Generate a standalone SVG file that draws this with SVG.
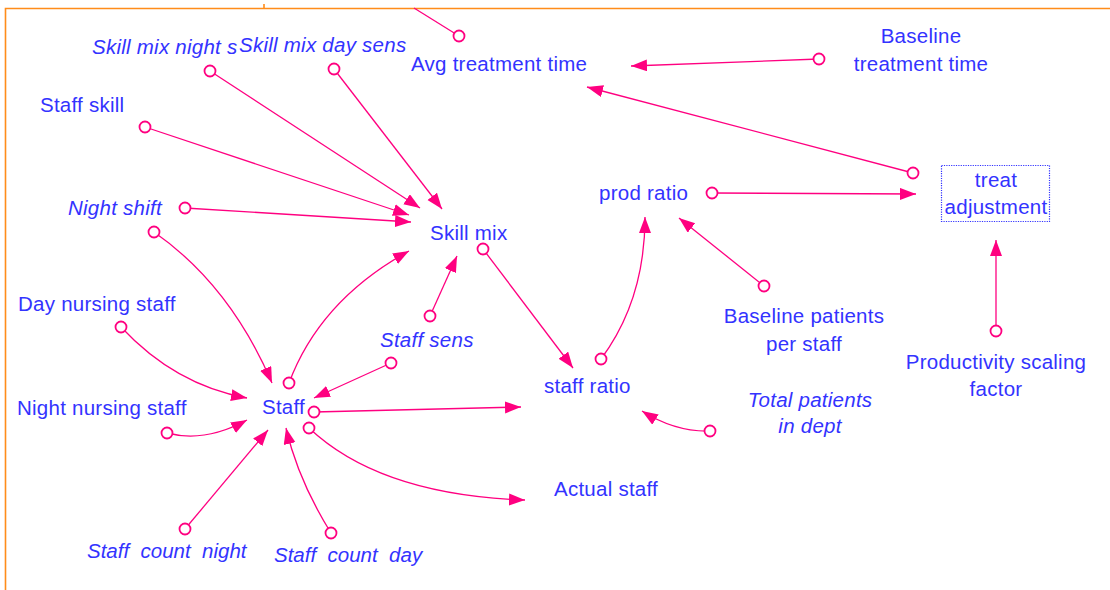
<svg xmlns="http://www.w3.org/2000/svg" width="1110" height="590" viewBox="0 0 1110 590">
<style>
.t{font-family:"Liberation Sans",Arial,sans-serif;font-size:20.5px;letter-spacing:0.25px;fill:#3333ff}
.i{font-style:italic}
.m{text-anchor:middle}
.n{letter-spacing:0}
.c{fill:none;stroke:#ff0080;stroke-width:1.3}
.a{marker-end:url(#ah)}
.o{fill:#fff;stroke:#ff0080;stroke-width:1.8}
.b{fill:none;stroke:#ff8c1a;stroke-width:1.6}
</style>
<defs>
<marker id="ah" markerUnits="userSpaceOnUse" markerWidth="17" markerHeight="13" refX="16" refY="6" orient="auto">
<path d="M0,0 L16,6 L0,12 z" fill="#ff0080"/>
</marker>
</defs>
<rect width="1110" height="590" fill="#fff"/>
<g id="frame">
<path class="b" d="M5.5,590 V8.5 H1110"/>
<path class="b" d="M264,4 V8"/>
</g>
<g id="connectors">
<path class="c" d="M459,36 L414,8"/>
<path class="c a" d="M819,59 L631,66"/>
<path class="c a" d="M913,173 L587,87"/>
<path class="c a" d="M712,193 L916,194"/>
<path class="c a" d="M996,331 L996,240"/>
<path class="c a" d="M764,286 L679,218"/>
<path class="c a" d="M601,359 Q645,300 645,217"/>
<path class="c a" d="M483,249 L573,368"/>
<path class="c a" d="M710,431 Q675,432 642,411"/>
<path class="c a" d="M314,412 L521,407"/>
<path class="c a" d="M309,428 Q380,495 525,500"/>
<path class="c a" d="M289,383 Q320,300 409,251"/>
<path class="c a" d="M430,316 L457,256"/>
<path class="c a" d="M391,363 L314,398"/>
<path class="c a" d="M185,208 L411,222"/>
<path class="c a" d="M154,232 Q230,285 272,383"/>
<path class="c a" d="M145,127 L409,215"/>
<path class="c a" d="M210,71 L420,208"/>
<path class="c a" d="M334,69 L442,209"/>
<path class="c a" d="M121,327 Q175,385 247,398"/>
<path class="c a" d="M167,433 Q205,443 247,420"/>
<path class="c a" d="M185,529 L268,430"/>
<path class="c a" d="M331,533 Q298,480 286,428"/>
<circle class="o" cx="459" cy="36" r="5.5"/>
<circle class="o" cx="819" cy="59" r="5.5"/>
<circle class="o" cx="913" cy="173" r="5.5"/>
<circle class="o" cx="712" cy="193" r="5.5"/>
<circle class="o" cx="996" cy="331" r="5.5"/>
<circle class="o" cx="764" cy="286" r="5.5"/>
<circle class="o" cx="601" cy="359" r="5.5"/>
<circle class="o" cx="483" cy="249" r="5.5"/>
<circle class="o" cx="710" cy="431" r="5.5"/>
<circle class="o" cx="314" cy="412" r="5.5"/>
<circle class="o" cx="309" cy="428" r="5.5"/>
<circle class="o" cx="289" cy="383" r="5.5"/>
<circle class="o" cx="430" cy="316" r="5.5"/>
<circle class="o" cx="391" cy="363" r="5.5"/>
<circle class="o" cx="185" cy="208" r="5.5"/>
<circle class="o" cx="154" cy="232" r="5.5"/>
<circle class="o" cx="145" cy="127" r="5.5"/>
<circle class="o" cx="210" cy="71" r="5.5"/>
<circle class="o" cx="334" cy="69" r="5.5"/>
<circle class="o" cx="121" cy="327" r="5.5"/>
<circle class="o" cx="167" cy="433" r="5.5"/>
<circle class="o" cx="185" cy="529" r="5.5"/>
<circle class="o" cx="331" cy="533" r="5.5"/>
</g>
<g id="skill-mix-night-s"><text class="t i" x="92" y="54">Skill mix night s</text></g>
<g id="skill-mix-day-sens"><text class="t i" x="239" y="52">Skill mix day sens</text></g>
<g id="avg-treatment-time"><text class="t" x="411" y="71">Avg treatment time</text></g>
<g id="baseline-treatment-time"><text class="t m" x="921" y="43">Baseline</text><text class="t m" x="921" y="71">treatment time</text></g>
<g id="staff-skill"><text class="t" x="40" y="112">Staff skill</text></g>
<g id="night-shift"><text class="t i" x="68" y="215">Night shift</text></g>
<g id="skill-mix"><text class="t" x="430" y="240">Skill mix</text></g>
<g id="prod-ratio"><text class="t" x="599" y="200">prod ratio</text></g>
<g id="treat-adjustment"><rect x="941.5" y="165.5" width="108" height="56" fill="none" stroke="#3333ff" stroke-width="1.2" stroke-dasharray="1.2,1.2"/><text class="t m" x="996" y="187">treat</text><text class="t m" x="996" y="214">adjustment</text></g>
<g id="day-nursing-staff"><text class="t" x="18" y="311">Day nursing staff</text></g>
<g id="staff-sens"><text class="t i" x="380" y="347">Staff sens</text></g>
<g id="baseline-patients-per-staff"><text class="t m" x="804" y="323">Baseline patients</text><text class="t m" x="804" y="351">per staff</text></g>
<g id="productivity-scaling-factor"><text class="t m" x="996" y="369">Productivity scaling</text><text class="t m" x="996" y="396">factor</text></g>
<g id="night-nursing-staff"><text class="t" x="17" y="415">Night nursing staff</text></g>
<g id="staff"><text class="t" x="262" y="414">Staff</text></g>
<g id="staff-ratio"><text class="t" x="544" y="393">staff ratio</text></g>
<g id="total-patients-in-dept"><text class="t i m" x="810" y="407">Total patients</text><text class="t i m" x="810" y="433">in dept</text></g>
<g id="actual-staff"><text class="t" x="554" y="496">Actual staff</text></g>
<g id="staff-count-night"><text class="t i n" x="87" y="558" xml:space="preserve">Staff  count  night</text></g>
<g id="staff-count-day"><text class="t i n" x="274" y="562" xml:space="preserve">Staff  count  day</text></g>
</svg>
